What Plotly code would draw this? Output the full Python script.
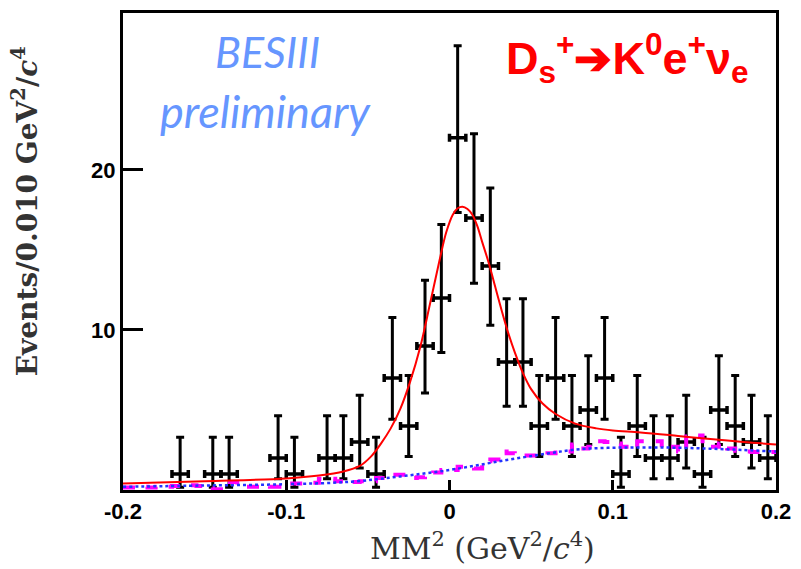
import plotly.graph_objects as go

# Binned data: bin centres (GeV^2/c^4), event counts and asymmetric Poisson errors
bin_centers = [-0.165, -0.145, -0.135, -0.105, -0.095, -0.075, -0.065, -0.055, -0.045,
               -0.035, -0.025, -0.015, -0.005, 0.005, 0.015, 0.025, 0.035, 0.045,
               0.055, 0.065, 0.075, 0.085, 0.095, 0.105, 0.115, 0.125, 0.135, 0.145,
               0.155, 0.165, 0.175, 0.185, 0.195]
counts = [1, 1, 1, 2, 1, 2, 2, 3, 1, 7, 4, 9, 12, 22, 17, 14, 8, 8, 4, 7, 4, 5, 7, 1,
          4, 2, 2, 3, 1, 5, 4, 3, 2]
err_up = [2.30, 2.30, 2.30, 2.64, 2.30, 2.64, 2.64, 2.92, 2.30, 3.77, 3.16, 4.11, 4.58,
          5.76, 5.26, 4.86, 3.95, 3.95, 3.16, 3.77, 3.16, 3.38, 3.77, 2.30, 3.16, 2.64,
          2.64, 2.92, 2.30, 3.38, 3.16, 2.92, 2.64]
err_down = [0.83, 0.83, 0.83, 1.29, 0.83, 1.29, 1.29, 1.63, 0.83, 2.58, 1.91, 2.94, 3.41,
            4.66, 4.08, 3.70, 2.77, 2.77, 1.91, 2.58, 1.91, 2.16, 2.58, 0.83, 1.91, 1.29,
            1.29, 1.63, 0.83, 2.16, 1.91, 1.63, 1.29]
bin_half_width = 0.005

# Total fit (signal + background)
fit_x = [-0.200, -0.150, -0.100, -0.080, -0.065, -0.055, -0.048, -0.042, -0.036, -0.030,
         -0.024, -0.018, -0.012, -0.006, -0.002, 0.002, 0.005, 0.008, 0.011, 0.014, 0.017,
         0.020, 0.024, 0.028, 0.032, 0.036, 0.040, 0.045, 0.050, 0.057, 0.065, 0.077,
         0.090, 0.100, 0.117, 0.140, 0.158, 0.180, 0.200]
fit_y = [0.40, 0.55, 0.72, 0.90, 1.15, 1.50, 2.10, 2.90, 3.85, 5.10,
         6.80, 8.90, 11.60, 14.40, 16.10, 17.20, 17.60, 17.70, 17.55, 17.20, 16.50,
         15.50, 14.20, 12.70, 11.20, 9.80, 8.60, 7.30, 6.30, 5.40, 4.75, 4.15,
         3.85, 3.72, 3.60, 3.38, 3.20, 3.00, 2.85]

# Background fit
bkg_x = [-0.20, -0.15, -0.10, -0.06, -0.03, 0.00, 0.03, 0.06, 0.08, 0.10, 0.12, 0.14,
         0.16, 0.18, 0.20]
bkg_y = [0.20, 0.28, 0.36, 0.52, 0.85, 1.25, 1.78, 2.28, 2.55, 2.64, 2.66, 2.64,
         2.58, 2.50, 2.40]

# Background shape from simulation (fine-binned histogram)
mc_edges = [-0.200, -0.195, -0.190, -0.185, -0.180, -0.175, -0.170, -0.165, -0.160,
            -0.155, -0.150, -0.145, -0.140, -0.135, -0.130, -0.125, -0.120, -0.115,
            -0.110, -0.105, -0.100, -0.095, -0.090, -0.085, -0.080, -0.075, -0.070,
            -0.065, -0.060, -0.055, -0.050, -0.045, -0.040, -0.035, -0.030, -0.025,
            -0.020, -0.015, -0.010, -0.005, 0.000, 0.005, 0.010, 0.015, 0.020, 0.025,
            0.030, 0.035, 0.040, 0.045, 0.050, 0.055, 0.060, 0.065, 0.070, 0.075,
            0.080, 0.085, 0.090, 0.095, 0.100, 0.105, 0.110, 0.115, 0.120, 0.125,
            0.130, 0.135, 0.140, 0.145, 0.150, 0.155, 0.160, 0.165, 0.170, 0.175,
            0.180, 0.185, 0.190, 0.195, 0.200]
mc_vals = [0.15, 0.15, 0.20, 0.15, 0.20, 0.20, 0.25, 0.30, 0.30, 0.25, 0.15, 0.05,
           0.50, 0.50, 0.30, 0.20, 0.20, 0.25, 0.20, 0.20, 0.40, 0.40, 0.45, 0.45,
           0.70, 0.70, 0.55, 0.60, 0.50, 0.55, 0.55, 0.75, 0.75, 0.95, 0.95, 0.75,
           0.80, 0.95, 1.10, 1.25, 1.25, 1.45, 1.45, 1.35, 1.80, 1.90, 2.40, 2.30,
           2.20, 2.15, 2.15, 2.20, 2.30, 2.35, 2.40, 2.85, 2.60, 2.70, 3.05, 3.00,
           2.90, 2.70, 2.60, 3.05, 3.05, 3.05, 2.60, 2.70, 2.40, 3.35, 3.40, 2.90,
           2.70, 2.90, 2.60, 2.45, 2.40, 2.38, 2.38, 2.38, 2.38]

y_tick_vals = [10, 20]
x_tick_vals = [-0.2, -0.1, 0, 0.1, 0.2]
x_tick_text = ["-0.2", "-0.1", "0", "0.1", "0.2"]

fig = go.Figure()

fig.add_trace(go.Scatter(
    x=bin_centers, y=counts, mode="markers",
    marker=dict(size=3, color="black"),
    error_y=dict(type="data", symmetric=False, array=err_up, arrayminus=err_down,
                 color="black", thickness=3, width=4),
    error_x=dict(type="constant", value=bin_half_width, color="black",
                 thickness=3.5, width=4),
    showlegend=False,
))

fig.add_trace(go.Scatter(
    x=mc_edges, y=mc_vals, mode="lines", line_shape="hv",
    line=dict(color="#ff00ff", width=4, dash="dash"),
    showlegend=False,
))

fig.add_trace(go.Scatter(
    x=bkg_x, y=bkg_y, mode="lines", line_shape="spline",
    line=dict(color="#2233ff", width=2.5, dash="dot"),
    showlegend=False,
))

fig.add_trace(go.Scatter(
    x=fit_x, y=fit_y, mode="lines", line_shape="spline",
    line=dict(color="#ff0000", width=2),
    showlegend=False,
))

tick_font = dict(family="Liberation Sans", size=22, color="black", weight="bold")

fig.update_xaxes(
    range=[-0.2, 0.2], tickvals=x_tick_vals, ticktext=x_tick_text,
    ticks="inside", ticklen=10, tickwidth=3, tickcolor="black",
    showline=True, linecolor="black", linewidth=3, mirror=True,
    showgrid=False, zeroline=False, tickfont=tick_font,
)
fig.update_yaxes(
    range=[0, 29.8], tickvals=y_tick_vals,
    ticks="inside", ticklen=20, tickwidth=3, tickcolor="black",
    showline=True, linecolor="black", linewidth=3, mirror=True,
    showgrid=False, zeroline=False, tickfont=tick_font,
)

label_blue = "#6696ff"
fig.update_layout(
    width=801, height=569,
    margin=dict(l=123, r=18, t=10, b=79),
    paper_bgcolor="white", plot_bgcolor="white",
    annotations=[
        dict(text="<i>BESIII</i>", xref="paper", yref="paper", x=0.221, y=0.92,
             xanchor="center", yanchor="middle", showarrow=False,
             font=dict(family="Lato", size=43, color=label_blue)),
        dict(text="<i>preliminary</i>", xref="paper", yref="paper", x=0.218, y=0.795,
             xanchor="center", yanchor="middle", showarrow=False,
             font=dict(family="Lato", size=45, color=label_blue)),
        dict(text="<b>D<sub>s</sub><sup>+</sup>➔K<sup>0</sup>e<sup>+</sup>ν<sub>e</sub></b>",
             xref="paper", yref="paper", x=0.772, y=0.905,
             xanchor="center", yanchor="middle", showarrow=False,
             font=dict(family="Liberation Sans", size=45, color="#ff0000")),
        dict(text="<b>Events/0.010 GeV<sup>2</sup>/<i>c</i><sup>4</sup></b>",
             xref="paper", yref="paper", x=-0.148, y=0.585, textangle=-90,
             xanchor="center", yanchor="middle", showarrow=False,
             font=dict(family="DejaVu Serif", size=28, color="#333333")),
        dict(text="MM<sup>2</sup> (GeV<sup>2</sup>/<i>c</i><sup>4</sup>)",
             xref="paper", yref="paper", x=0.55, y=-0.119,
             xanchor="center", yanchor="middle", showarrow=False,
             font=dict(family="DejaVu Serif", size=30, color="#333333")),
    ],
)

fig.write_html("out.html")
